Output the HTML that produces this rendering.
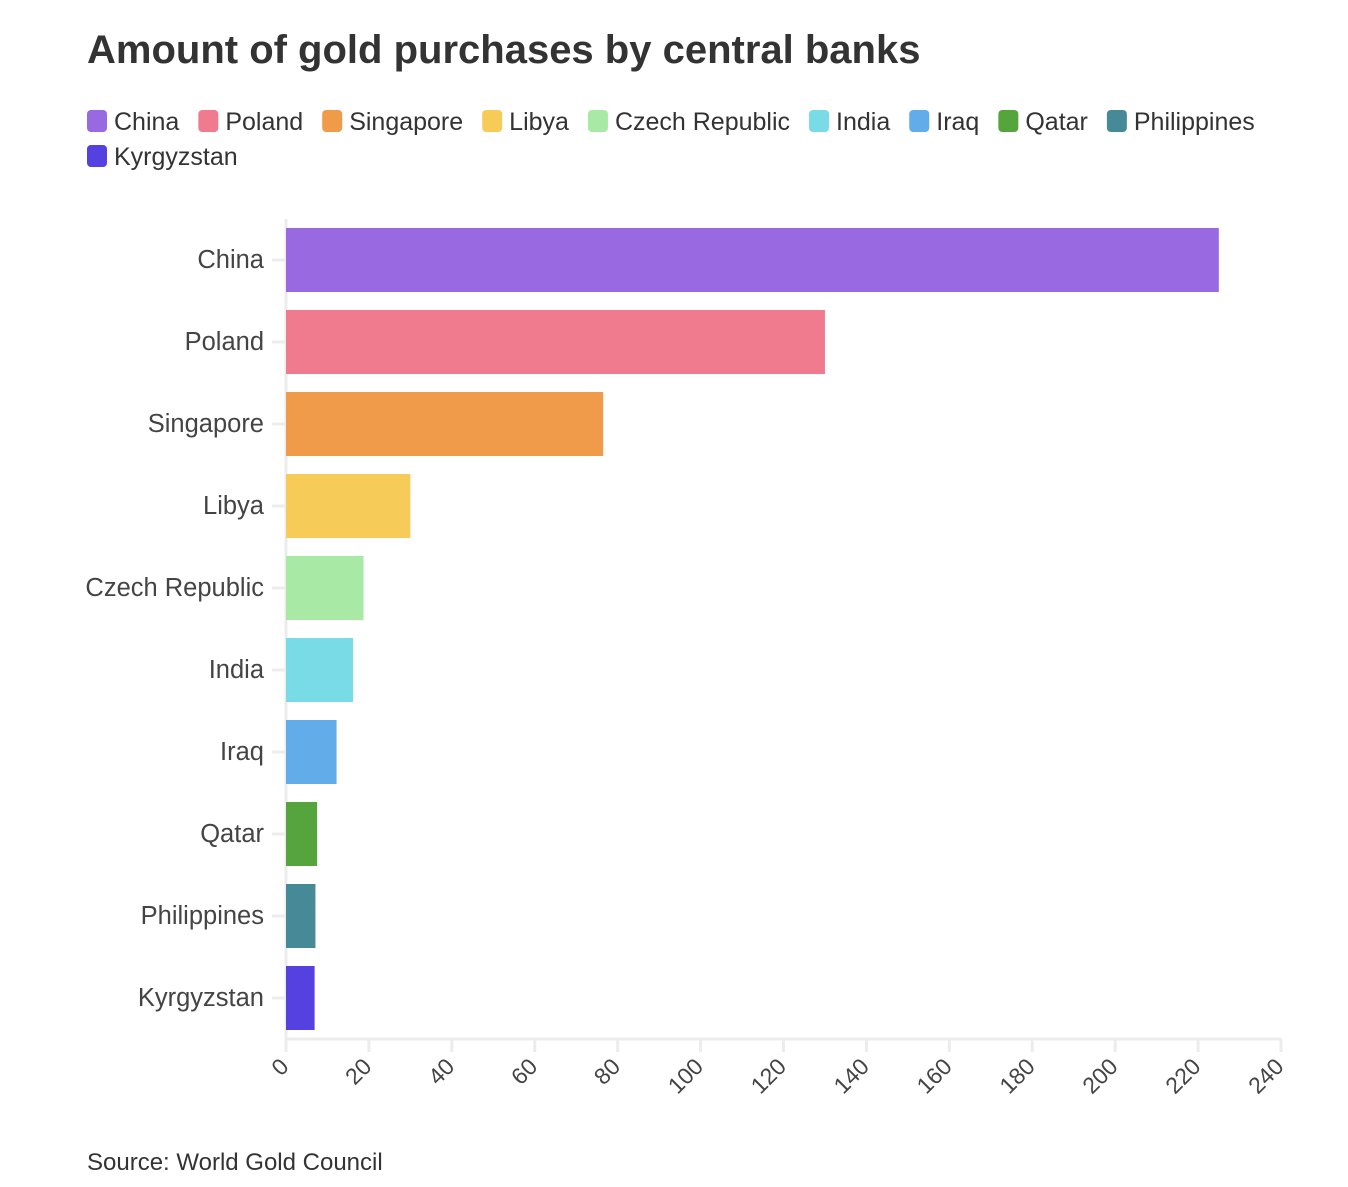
<!DOCTYPE html>
<html><head><meta charset="utf-8"><style>
body{margin:0;background:#fff;font-family:"Liberation Sans",sans-serif;color:#333}
svg text{font-family:"Liberation Sans",sans-serif}
</style></head><body>
<svg id="chart" width="1348" height="1182" xmlns="http://www.w3.org/2000/svg">
<text x="87" y="63" font-size="40" font-weight="bold" fill="#333">Amount of gold purchases by central banks</text>
<g id="legend"></g>
<g id="axes"></g>
<g id="bars"></g>
<text x="87" y="1170" font-size="24" fill="#333">Source: World Gold Council</text>
</svg>
<script>
const categories=["China","Poland","Singapore","Libya","Czech Republic","India","Iraq","Qatar","Philippines","Kyrgyzstan"];
const values=[225,130,76.5,30,18.7,16.2,12.2,7.5,7.1,6.9];
const colors=["#9869e0","#f07b8f","#f09b4a","#f6cb57","#a8eaa5","#79dbe6","#62acea","#56a43e","#478a97","#5540e0"];
const ticks=[0,20,40,60,80,100,120,140,160,180,200,220,240];
const NS="http://www.w3.org/2000/svg";
const x0=286,x1=1281,plotTop=219,pitch=82,bh=64;
const xs=v=>x0+(v/240)*(x1-x0);
const yb=i=>plotTop+9+i*pitch;
function mk(t,a,p){const e=document.createElementNS(NS,t);for(const k in a)e.setAttribute(k,a[k]);p.appendChild(e);return e;}
const axes=document.getElementById('axes'),bars=document.getElementById('bars'),leg=document.getElementById('legend');
const xl=mk('line',{x1:x0,x2:x1,y1:1039,y2:1039,stroke:'#ececec','stroke-width':3},axes);


const yl=mk('line',{x1:x0,x2:x0,y1:plotTop,y2:1039,stroke:'#ececec','stroke-width':3},axes);


ticks.forEach(t=>{const x=xs(t);
const l=mk('line',{x1:x,x2:x,y1:1039,y2:1052,stroke:'#ececec','stroke-width':3},axes);


const tx=mk('text',{x:x+4,y:1068,'font-size':23,fill:'#444','text-anchor':'end',transform:`rotate(-45 ${x+4} 1068)`},axes);


tx.textContent=t;});
categories.forEach((c,i)=>{const y=yb(i);
const r=mk('rect',{x:x0,y:y,width:xs(values[i])-x0,height:bh,fill:colors[i]},bars);


const tk=mk('line',{x1:272,x2:285,y1:y+bh/2,y2:y+bh/2,stroke:'#ececec','stroke-width':3},axes);


const t=mk('text',{x:264,y:y+bh/2+8,'font-size':25.5,fill:'#444','text-anchor':'end'},axes);


t.textContent=c;});
let lx=87,ly=110;
const meas=mk('text',{'font-size':25,x:-999,y:-999},leg);
categories.forEach((c,i)=>{meas.textContent=c;const w=meas.getComputedTextLength();
if(lx+26+w>1270){lx=87;ly+=35;}
const g=mk('g',{},leg);


mk('rect',{x:lx,y:ly,width:20,height:22,rx:4,fill:colors[i]},g);
const t=mk('text',{x:lx+27,y:ly+20,'font-size':25,fill:'#333'},g);t.textContent=c;
lx+=27+w+19;});
meas.remove();
</script>
</body></html>
